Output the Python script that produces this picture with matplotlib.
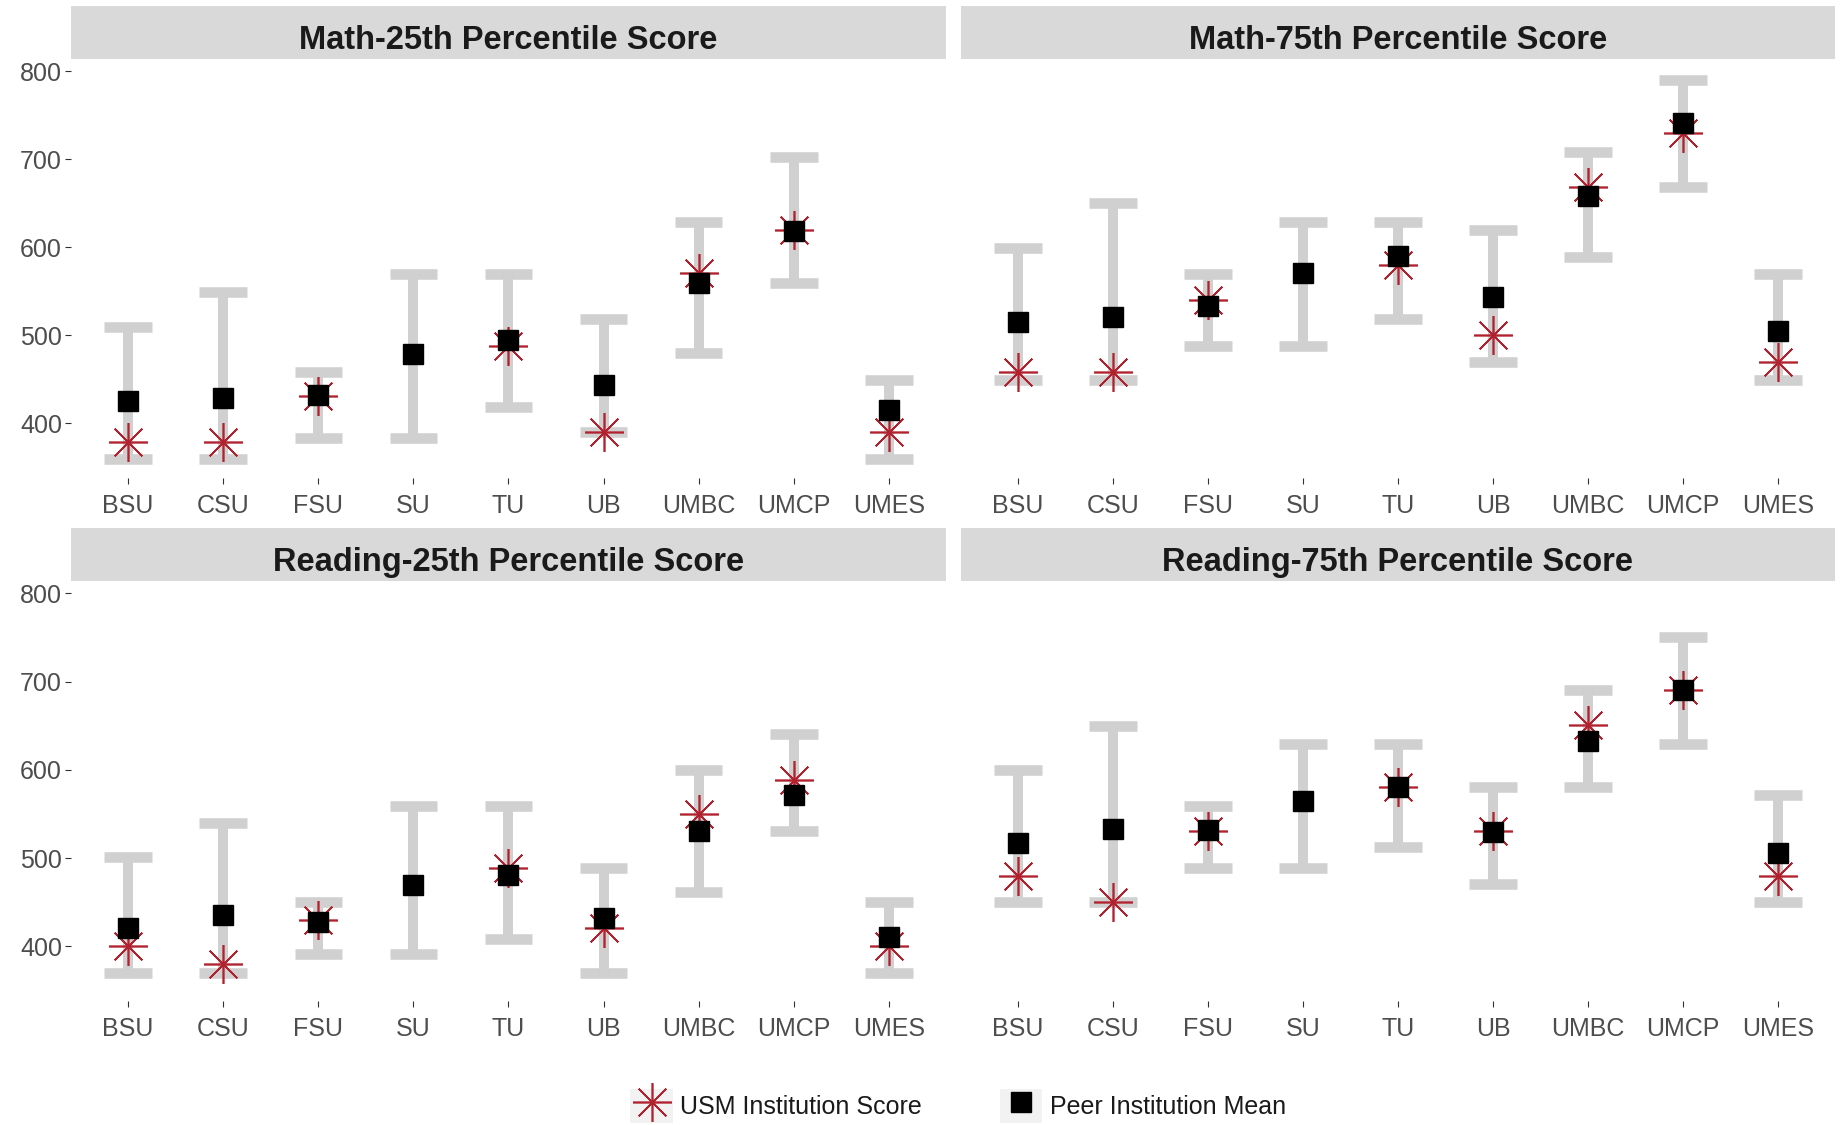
import numpy as np
import matplotlib
matplotlib.use("Agg")
import matplotlib.pyplot as plt
from matplotlib.lines import Line2D
from matplotlib.patches import Rectangle
from matplotlib.legend_handler import HandlerLine2D

plt.rcParams['font.family'] = ['Liberation Sans', 'DejaVu Sans']

schools = ['BSU', 'CSU', 'FSU', 'SU', 'TU', 'UB', 'UMBC', 'UMCP', 'UMES']
panels = ['Math-25th Percentile Score', 'Math-75th Percentile Score',
          'Reading-25th Percentile Score', 'Reading-75th Percentile Score']

# peer range (low / high), peer mean, USM score (nan = none shown)
math25_low = [360, 360, 383, 383, 419, 390, 480, 559, 360]
math25_high = [510, 549, 458, 570, 570, 519, 629, 703, 449]
math25_peer = [425, 429, 432, 479, 495, 444, 559, 619, 415]
math25_usm = [379, 379, 431, np.nan, 488, 390, 571, 620, 390]

math75_low = [449, 449, 488, 488, 519, 470, 589, 669, 449]
math75_high = [599, 650, 570, 629, 629, 620, 708, 790, 570]
math75_peer = [515, 521, 533, 571, 590, 544, 658, 741, 505]
math75_usm = [458, 458, 540, np.nan, 580, 501, 669, 730, 470]

read25_low = [370, 370, 391, 391, 408, 370, 461, 531, 370]
read25_high = [501, 540, 450, 559, 559, 489, 600, 641, 450]
read25_peer = [421, 435, 428, 469, 481, 432, 531, 571, 411]
read25_usm = [400, 380, 430, np.nan, 489, 421, 550, 589, 400]

read75_low = [450, 450, 489, 489, 512, 471, 580, 629, 450]
read75_high = [600, 650, 559, 629, 629, 580, 690, 750, 571]
read75_peer = [517, 533, 532, 565, 580, 530, 633, 690, 506]
read75_usm = [480, 450, 531, np.nan, 580, 531, 651, 690, 480]

lows = [math25_low, math75_low, read25_low, read75_low]
highs = [math25_high, math75_high, read25_high, read75_high]
peers = [math25_peer, math75_peer, read25_peer, read75_peer]
usms = [math25_usm, math75_usm, read25_usm, read75_usm]

bar_col = '#D0D0D0'
red = '#B2222E'
star = (8, 2, 0)

fig = plt.figure(figsize=(18.49, 11.25), dpi=100)
W, H = 1849, 1125
cols = [(71, 875), (961, 874)]
rows = [(59, 478), (581, 1001)]

x = np.arange(1, len(schools) + 1)
for i, name in enumerate(panels):
    r, c = divmod(i, 2)
    left, width = cols[c]
    top, bottom = rows[r]
    ax = fig.add_axes([left / W, 1 - bottom / H, width / W, (bottom - top) / H])

    ax.vlines(x, lows[i], highs[i], color=bar_col, lw=7.2, capstyle='butt', zorder=1)
    ax.hlines(lows[i], x - 0.25, x + 0.25, color=bar_col, lw=7.6, capstyle='butt', zorder=1)
    ax.hlines(highs[i], x - 0.25, x + 0.25, color=bar_col, lw=7.6, capstyle='butt', zorder=1)
    ax.plot(x, usms[i], ls='none', marker=star, ms=28, mew=1.2, color=red, zorder=2)
    ax.plot(x, peers[i], ls='none', marker='s', ms=15, color='black', zorder=3)

    ax.set_xlim(0.4, 9.6)
    ax.set_ylim(338, 814)
    ax.set_xticks(x)
    ax.set_xticklabels(schools)
    ax.set_yticks([400, 500, 600, 700, 800])
    for s in ax.spines.values():
        s.set_visible(False)
    ax.tick_params(axis='x', length=4.5, width=0.8, color='#333333', pad=7,
                   labelsize=18, labelcolor='#4D4D4D')
    ax.tick_params(axis='y', length=4.5, width=0.8, color='#333333', pad=2,
                   labelsize=18, labelcolor='#4D4D4D')
    if c == 1:
        ax.tick_params(axis='y', left=False, labelleft=False)

    # facet strip
    sh = 53 / (bottom - top)
    ax.add_patch(Rectangle((0, 1), 1, sh, transform=ax.transAxes, fc='#D9D9D9',
                           ec='none', clip_on=False))
    ax.text(0.5, 1 + sh * 0.42, name, transform=ax.transAxes, ha='center',
            va='center_baseline', fontsize=23.5, fontweight='bold', color='#1A1A1A')


class KeyBox(HandlerLine2D):
    def create_artists(self, legend, orig_handle, xdescent, ydescent, width, height, fontsize, trans):
        arts = super().create_artists(legend, orig_handle, xdescent, ydescent,
                                      width, height, fontsize, trans)
        bg = Rectangle((-xdescent, -ydescent), width, height, fc='#F2F2F2', ec='none',
                       transform=trans)
        return [bg] + list(arts)


h1 = Line2D([], [], ls='none', marker=star, ms=28, mew=1.2, color=red)
h2 = Line2D([], [], ls='none', marker='s', ms=15, color='black')
fig.legend([h1, h2], ['USM Institution Score', 'Peer Institution Mean'],
           loc='center', bbox_to_anchor=(958 / W, 1 - 1106 / H), ncol=2, frameon=False,
           fontsize=18, handler_map={Line2D: KeyBox(numpoints=1)},
           handlelength=1.7, handleheight=1.7, handletextpad=0.3, columnspacing=3.1,
           labelcolor='#1A1A1A')

fig.savefig('out.png', dpi=100, facecolor='white')
